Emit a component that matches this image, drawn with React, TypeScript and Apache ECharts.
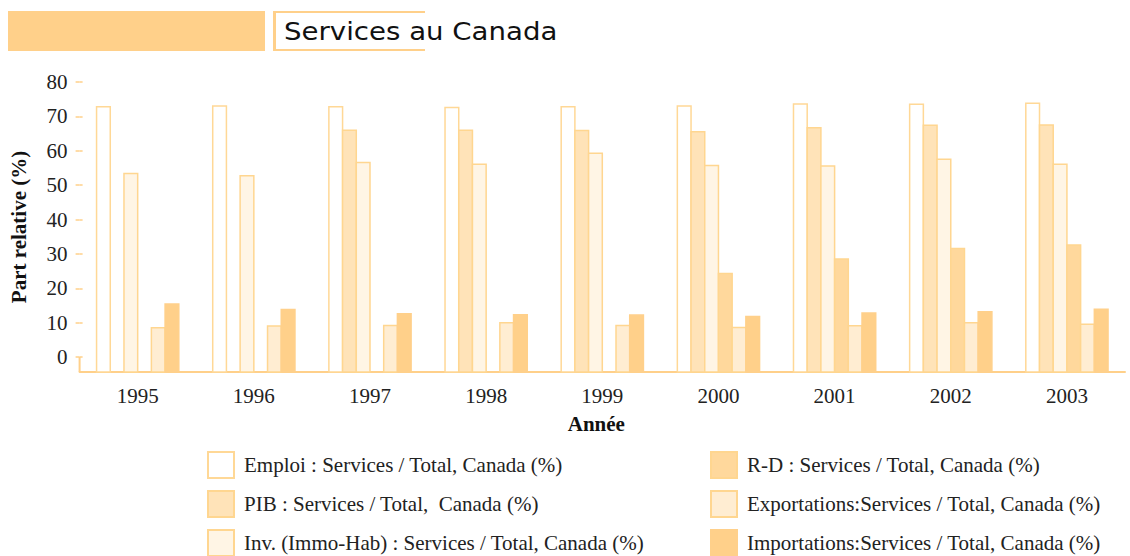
import React, { useEffect, useRef } from "react";
import * as echarts from "echarts";

const years = ["1995", "1996", "1997", "1998", "1999", "2000", "2001", "2002", "2003"];
const emploi = [72.8, 73.0, 72.8, 72.6, 72.8, 73.0, 73.6, 73.5, 73.8];
const pib = [null, null, 66.0, 66.0, 65.9, 65.5, 66.7, 67.4, 67.5];
const inv = [53.4, 52.7, 56.6, 56.1, 59.3, 55.7, 55.6, 57.5, 56.1];
const rd = [null, null, null, null, null, 24.3, 28.5, 31.6, 32.6];
const exportations = [8.5, 9.0, 9.2, 10.0, 9.2, 8.6, 9.1, 10.0, 9.5];
const importations = [15.4, 13.8, 12.6, 12.3, 12.2, 11.8, 12.8, 13.2, 13.9];
const yTickValues = [0, 10, 20, 30, 40, 50, 60, 70, 80];

const seriesNames = [
  "Emploi : Services / Total, Canada (%)",
  "PIB : Services / Total,  Canada (%)",
  "Inv. (Immo-Hab) : Services / Total, Canada (%)",
  "R-D : Services / Total, Canada (%)",
  "Exportations:Services / Total, Canada (%)",
  "Importations:Services / Total, Canada (%)",
];
const seriesValues = [emploi, pib, inv, rd, exportations, importations];
const fills = ["#FFFFFF", "#FFE3B8", "#FFF5E5", "#FFD89C", "#FFEDD2", "#FFD08A"];
const strokes = ["#FFD896", "#FFD690", "#FFD690", "#FFD690", "#FFD690", "#FFD08A"];

const Y_MIN = -4.36;
const Y_MAX = 80;
const SERIF = "'Liberation Serif', 'Times New Roman', serif";

export default function App() {
  const ref = useRef<HTMLDivElement>(null);

  useEffect(() => {
    if (!ref.current) return;
    const chart = echarts.init(ref.current, null, { renderer: "svg" });

    const series = seriesValues.map((vals, idx) => ({
      type: "custom" as const,
      name: seriesNames[idx],
      xAxisIndex: 0,
      yAxisIndex: 0,
      encode: { x: 0, y: 1 },
      itemStyle: { color: fills[idx], borderColor: strokes[idx], borderWidth: 1.5 },
      data: vals.map((v, i) => [i, v == null ? "-" : v]),
      renderItem: (params: any, api: any) => {
        const v = api.value(1);
        if (v == null || isNaN(v)) return null;
        const c = api.value(0);
        const top = api.coord([c, v]);
        const base = api.coord([c, Y_MIN]);
        const band = api.size([1, 0])[0];
        const w = band * 0.118;
        return {
          type: "rect",
          shape: { x: top[0] + (idx - 3) * w, y: top[1], width: w, height: base[1] - top[1] },
          style: { fill: fills[idx], stroke: strokes[idx], lineWidth: 1.5 },
        };
      },
    }));

    const legendItem = (i: number) => ({
      name: seriesNames[i],
      itemStyle: { color: fills[i], borderColor: strokes[i], borderWidth: 2 },
    });

    const legendCommon = {
      orient: "vertical" as const,
      top: 451,
      height: 140,
      padding: 0,
      itemWidth: 26,
      itemHeight: 26,
      itemGap: 11,
      icon: "rect",
      selectedMode: false,
      textStyle: { fontFamily: SERIF, fontSize: 21, color: "#222", padding: [0, 0, 0, 5] },
    };

    chart.setOption({
      animation: false,
      backgroundColor: "#FFFFFF",
      grid: { left: 79.6, right: 5, top: 82, bottom: 184, containLabel: false },
      xAxis: {
        type: "category",
        data: years,
        name: "Année",
        nameLocation: "middle",
        nameGap: 41,
        nameTextStyle: { fontFamily: SERIF, fontSize: 21, fontWeight: "bold", color: "#111", padding: [0, 12, 0, 0] },
        axisLine: { onZero: false, lineStyle: { color: "#FFD08A", width: 2 } },
        axisTick: { inside: true, length: 8, lineStyle: { color: "#FFD08A", width: 2 } },
        axisLabel: { fontFamily: SERIF, fontSize: 21, color: "#222", margin: 13 },
      },
      yAxis: [
        {
          type: "value",
          min: Y_MIN,
          max: Y_MAX,
          name: "Part relative (%)",
          nameLocation: "middle",
          nameGap: 50,
          nameTextStyle: { fontFamily: SERIF, fontSize: 21, fontWeight: "bold", color: "#111" },
          axisLine: { show: false },
          splitLine: { show: false },
          axisTick: { show: true, length: 4, customValues: yTickValues, lineStyle: { color: "#FFD08A", width: 1.5 } },
          axisLabel: { fontFamily: SERIF, fontSize: 21, color: "#222", margin: 12, customValues: yTickValues },
        },
        {
          type: "value",
          min: Y_MIN,
          max: Y_MAX,
          position: "left",
          axisLine: { show: false },
          splitLine: { show: false },
          axisLabel: { show: false, customValues: yTickValues },
          axisTick: { show: true, inside: true, length: 3, customValues: yTickValues, lineStyle: { color: "#FFD08A", width: 1.5 } },
        },
      ],
      legend: [
        { ...legendCommon, left: 207, data: [0, 1, 2].map(legendItem) },
        { ...legendCommon, left: 710, data: [3, 4, 5].map(legendItem) },
      ],
      graphic: [
        { type: "rect", left: 8, top: 11, shape: { width: 257, height: 40 }, style: { fill: "#FFD08A" } },
        { type: "line", shape: { x1: 274.5, y1: 11, x2: 274.5, y2: 51 }, style: { stroke: "#FFD08A", lineWidth: 3 } },
        { type: "line", shape: { x1: 273, y1: 12, x2: 425, y2: 12 }, style: { stroke: "#FFD08A", lineWidth: 2 } },
        { type: "line", shape: { x1: 273, y1: 50, x2: 425, y2: 50 }, style: { stroke: "#FFD08A", lineWidth: 2 } },
        { type: "line", shape: { x1: 79.6, y1: 357, x2: 79.6, y2: 372 }, style: { stroke: "#FFD08A", lineWidth: 2 } },
        {
          type: "text",
          x: 284,
          y: 32,
          scaleX: 1.15,
          style: {
            text: "Services au Canada",
            fontFamily: "'DejaVu Sans', sans-serif",
            fontSize: 24,
            fill: "#111",
            verticalAlign: "middle",
          },
        },
      ],
      series,
    });

    return () => chart.dispose();
  }, []);

  return <div ref={ref} style={{ width: 1130, height: 556, position: "absolute", left: 0, top: 0 }} />;
}
